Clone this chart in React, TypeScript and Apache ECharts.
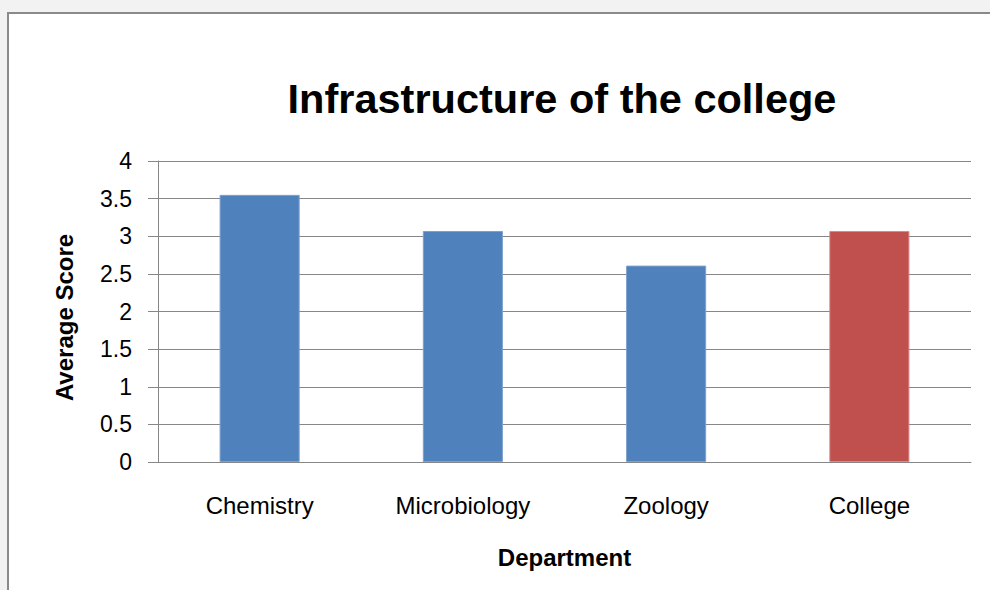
import React, { useEffect, useRef } from "react";
import * as echarts from "echarts";

const categories = ["Chemistry", "Microbiology", "Zoology", "College"];
const scores = [3.55, 3.07, 2.61, 3.07];
const highlightCategory = "College";
const yTicks = { min: 0, max: 4, interval: 0.5 };
const titleText = "Infrastructure of the college";
const xAxisTitle = "Department";
const yAxisTitle = "Average Score";

const FONT = "'Liberation Sans', Arial, sans-serif";
const BLUE = "#4f81bd";
const RED = "#c0504d";
const GRID_GRAY = "#878787";

export default function App() {
  const ref = useRef<HTMLDivElement>(null);

  useEffect(() => {
    if (!ref.current) return;
    const chart = echarts.init(ref.current, undefined, { renderer: "svg" });
    chart.setOption({
      animation: false,
      backgroundColor: "#f2f2f2",
      graphic: [
        {
          type: "rect",
          z: -10,
          silent: true,
          shape: { x: 8, y: 13, width: 1100, height: 700 },
          style: { fill: "#ffffff", stroke: "#8a8a8a", lineWidth: 2 },
        },
      ],
      title: {
        text: titleText,
        left: 557,
        textAlign: "center",
        top: 72,
        textStyle: {
          fontFamily: FONT,
          fontWeight: "bold",
          fontSize: 41.5,
          color: "#000000",
        },
      },
      grid: {
        left: 158,
        right: 19,
        top: 161,
        bottom: 128,
        containLabel: false,
      },
      xAxis: {
        type: "category",
        data: categories,
        name: xAxisTitle,
        nameLocation: "middle",
        nameGap: 95,
        nameTextStyle: {
          fontFamily: FONT,
          fontWeight: "bold",
          fontSize: 24,
          color: "#000000",
          verticalAlign: "middle",
        },
        axisLine: { show: true, lineStyle: { color: GRID_GRAY, width: 1 } },
        axisTick: { show: false },
        axisLabel: {
          fontFamily: FONT,
          fontSize: 24,
          color: "#000000",
          margin: 31,
        },
      },
      yAxis: {
        type: "value",
        min: yTicks.min,
        max: yTicks.max,
        interval: yTicks.interval,
        name: yAxisTitle,
        nameLocation: "middle",
        nameGap: 82,
        nameRotate: 90,
        nameTextStyle: {
          fontFamily: FONT,
          fontWeight: "bold",
          fontSize: 24,
          color: "#000000",
          padding: [0, 12, 0, 0],
        },
        axisLine: { show: true, lineStyle: { color: GRID_GRAY, width: 1 } },
        axisTick: {
          show: true,
          length: 10,
          inside: false,
          lineStyle: { color: GRID_GRAY, width: 1 },
        },
        axisLabel: {
          fontFamily: FONT,
          fontSize: 23,
          color: "#000000",
          margin: 26,
        },
        splitLine: { show: true, lineStyle: { color: GRID_GRAY, width: 1 } },
      },
      series: [
        {
          type: "bar",
          barWidth: "39.4%",
          data: scores.map((v, i) => ({
            value: v,
            itemStyle: {
              color: categories[i] === highlightCategory ? RED : BLUE,
              borderColor:
                categories[i] === highlightCategory ? "#d88a88" : "#7da0cc",
              borderWidth: 1,
            },
          })),
        },
      ],
    });
    return () => chart.dispose();
  }, []);

  return (
    <div
      ref={ref}
      style={{ position: "fixed", left: 0, top: 0, width: 990, height: 590 }}
    />
  );
}
